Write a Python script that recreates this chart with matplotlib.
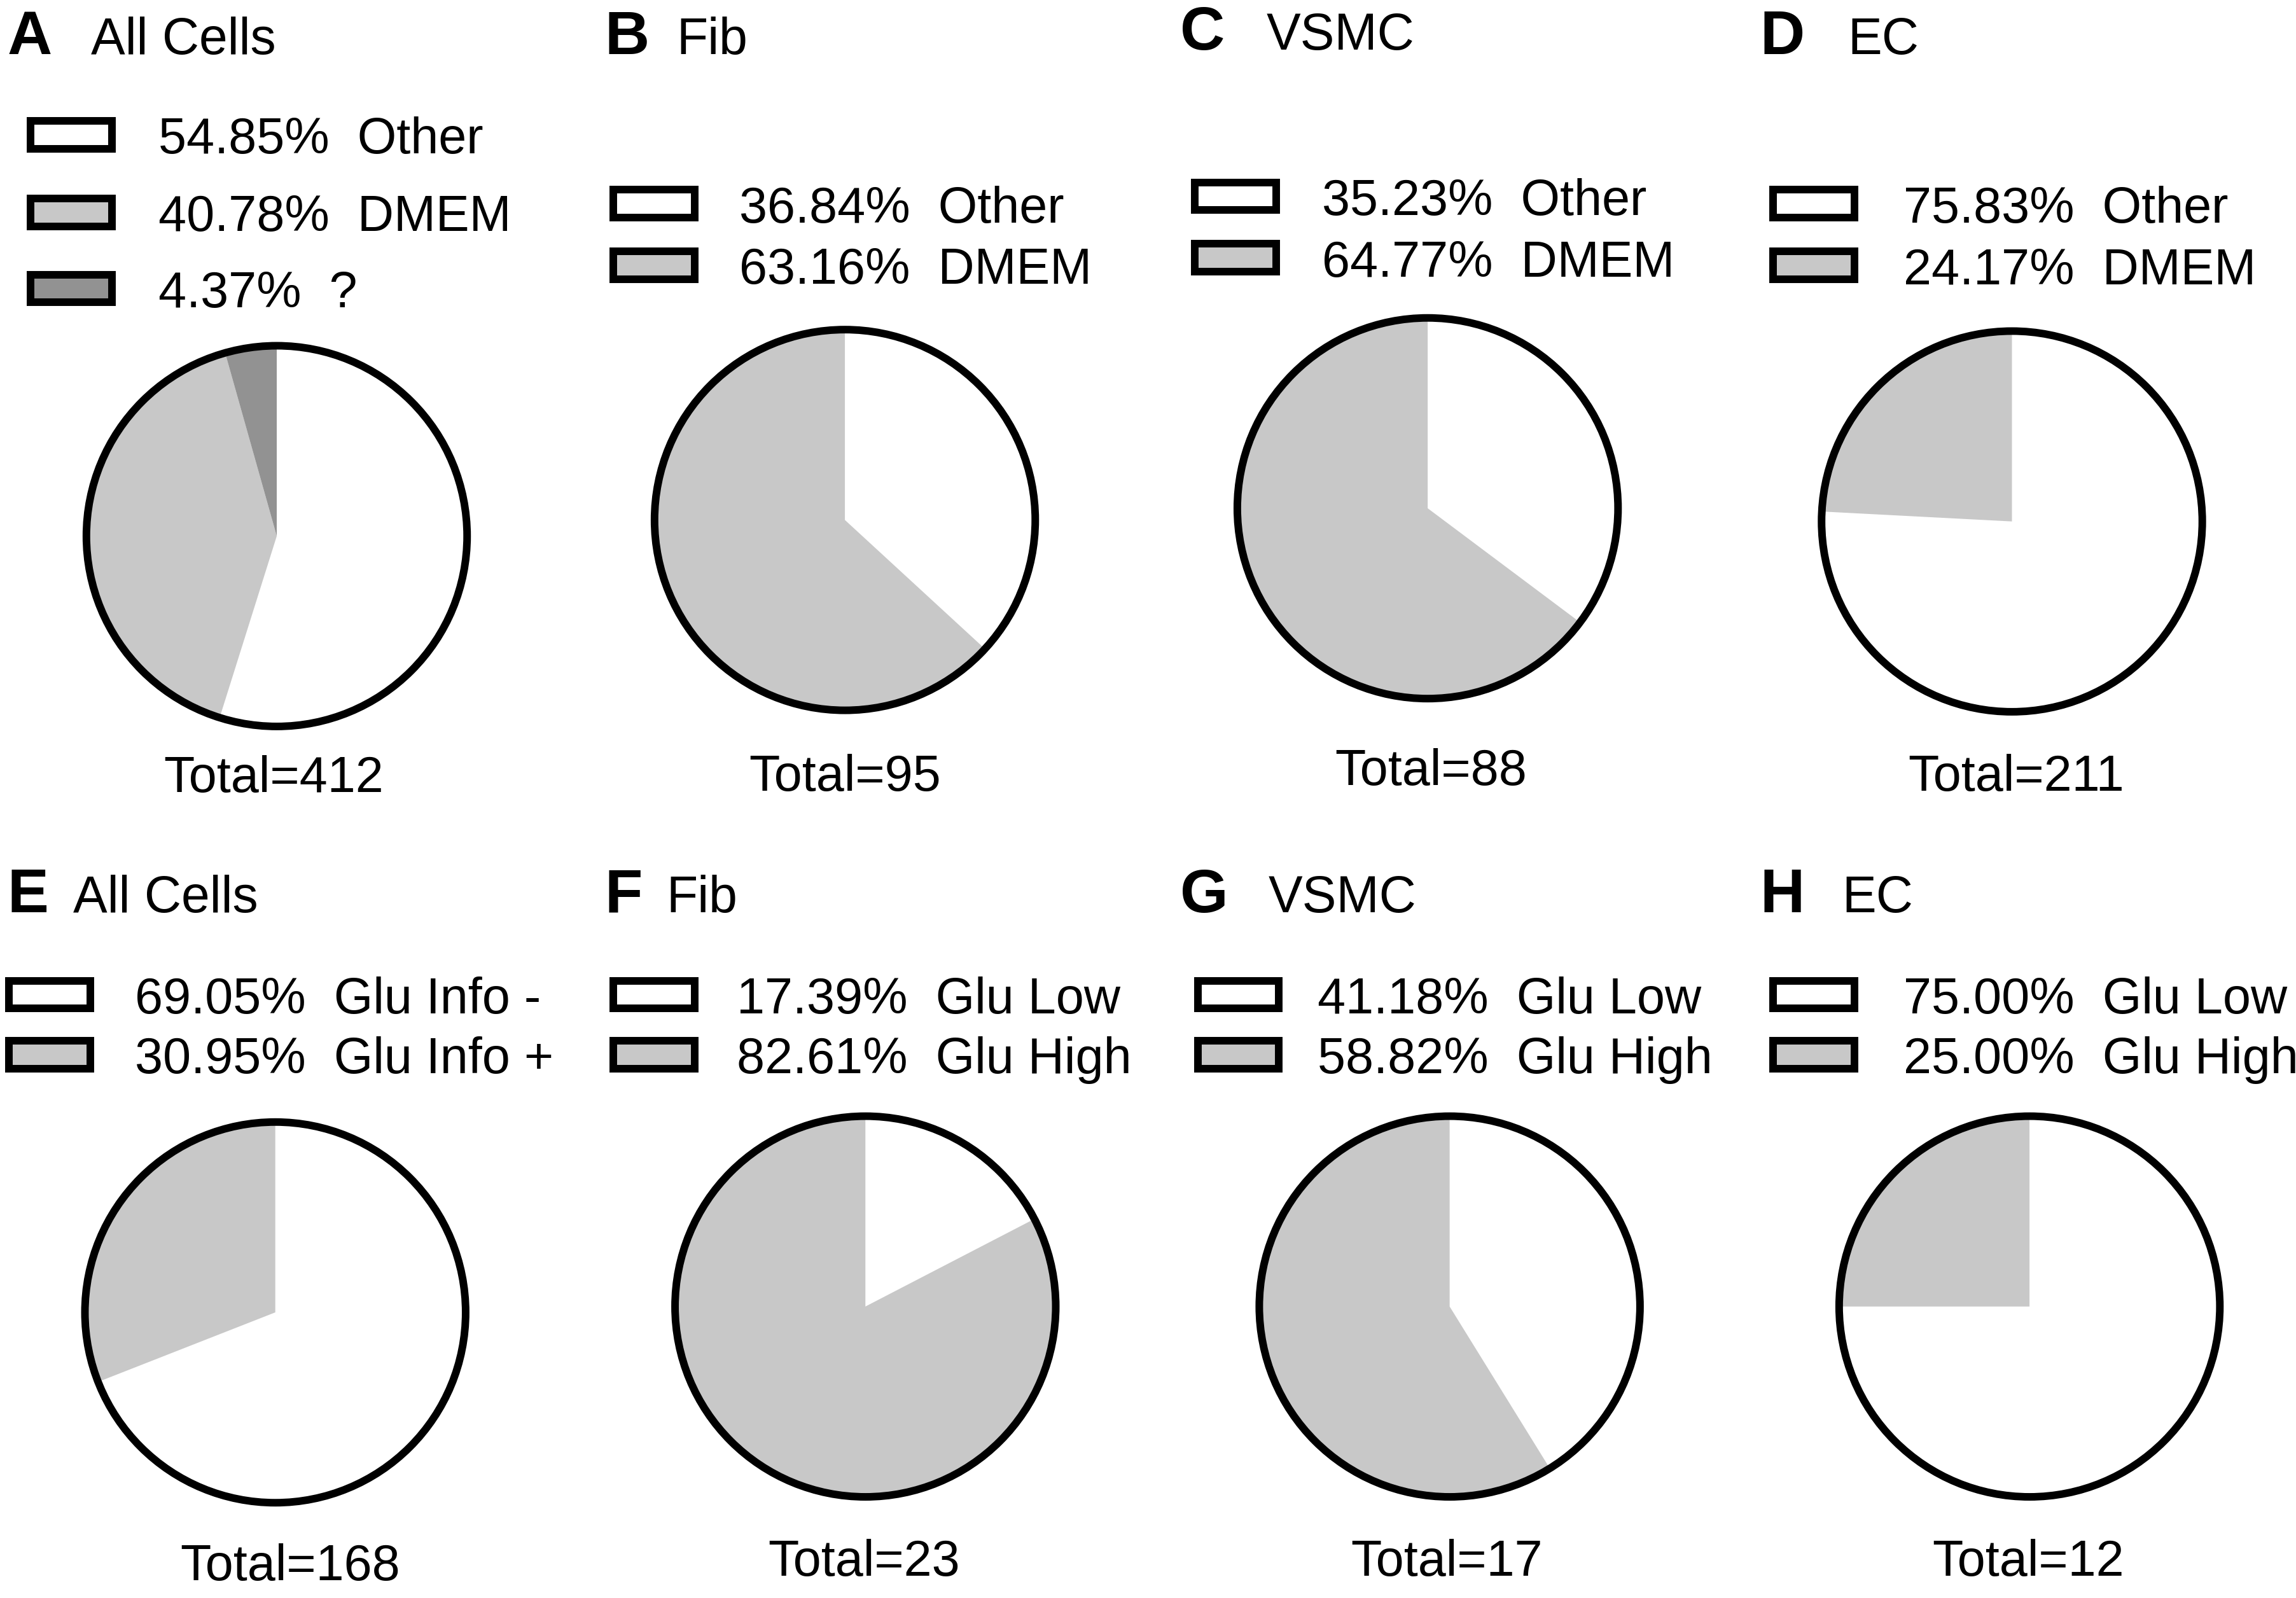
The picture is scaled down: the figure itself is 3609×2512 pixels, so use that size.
import matplotlib
matplotlib.use('Agg')
import matplotlib.pyplot as plt
from matplotlib.patches import Rectangle, Circle

plt.rcParams['font.family'] = ['Liberation Sans', 'DejaVu Sans']

# panel data
letters = ["A", "B", "C", "D", "E", "F", "G", "H"]
titles = ["All Cells", "Fib", "VSMC", "EC", "All Cells", "Fib", "VSMC", "EC"]
pcts = [
    [54.85, 40.78, 4.37],
    [36.84, 63.16],
    [35.23, 64.77],
    [75.83, 24.17],
    [69.05, 30.95],
    [17.39, 82.61],
    [41.18, 58.82],
    [75.00, 25.00],
]
labels = [
    ["Other", "DMEM", "?"],
    ["Other", "DMEM"],
    ["Other", "DMEM"],
    ["Other", "DMEM"],
    ["Glu Info -", "Glu Info +"],
    ["Glu Low", "Glu High"],
    ["Glu Low", "Glu High"],
    ["Glu Low", "Glu High"],
]
totals = [412, 95, 88, 211, 168, 23, 17, 12]
colors = ["white", "#c8c8c8", "#929292"]

# layout in reference-preview pixels (1568 x 1091)
W, H = 1568.0, 1091.0
letter_x = [5, 413, 806, 1202, 5, 413, 806, 1202]
title_x = [62, 462, 865, 1262, 50, 455, 866, 1258]
title_y = [24, 24, 21, 24, 610, 610, 610, 610]
box_x = [21, 419, 816, 1211, 6, 419, 818, 1211]
text_x = [108, 505, 903, 1300, 92, 503, 900, 1300]
row_y = [[92, 145, 197], [139, 181], [134, 176], [139, 181],
         [679, 720], [679, 720], [679, 720], [679, 720]]
pie_c = [(189, 366), (577, 355), (975, 347), (1374, 356),
         (188, 896), (591, 892), (990, 892), (1386, 892)]
pie_r = 130
total_pos = [(187, 528), (577, 527), (977, 523), (1377, 527),
             (198, 1066), (590, 1063), (988, 1063), (1385, 1063)]

FS = 57
HALF_CAP = 12.8   # half cap height in preview pixels
LW = 8.6

fig = plt.figure(figsize=(36.09, 25.12), dpi=100)


def fx(x):
    return x / W


def fy(y):
    return 1 - y / H


for i in range(8):
    fig.text(fx(letter_x[i]), fy(title_y[i] + HALF_CAP), letters[i], fontsize=70,
             fontweight='bold', ha='left', va='baseline')
    fig.text(fx(title_x[i]), fy(title_y[i] + HALF_CAP), titles[i], fontsize=58,
             ha='left', va='baseline')

    for j, (p, lab) in enumerate(zip(pcts[i], labels[i])):
        yy = row_y[i][j]
        fig.add_artist(Rectangle((fx(box_x[i]), fy(yy + 9.5)), 55.5 / W, 19 / H,
                                 transform=fig.transFigure, facecolor=colors[j],
                                 edgecolor='black', linewidth=LW,
                                 joinstyle='miter'))
        fig.text(fx(text_x[i]), fy(yy + HALF_CAP), f"{p:.2f}%  {lab}", fontsize=FS,
                 ha='left', va='baseline')

    cx, cy = pie_c[i]
    ax = fig.add_axes([fx(cx - pie_r), fy(cy + pie_r), 2 * pie_r / W, 2 * pie_r / H])
    ax.pie(pcts[i], colors=colors[:len(pcts[i])], startangle=90,
           counterclock=False, radius=1, wedgeprops=dict(linewidth=0))
    ax.add_patch(Circle((0, 0), 1, fill=False, edgecolor='black', linewidth=LW,
                        clip_on=False))
    ax.set_xlim(-1, 1)
    ax.set_ylim(-1, 1)
    ax.axis('off')

    tx, ty = total_pos[i]
    fig.text(fx(tx), fy(ty + HALF_CAP), f"Total={totals[i]}", fontsize=FS,
             ha='center', va='baseline')

fig.savefig("out.png", dpi=100, facecolor='white')
